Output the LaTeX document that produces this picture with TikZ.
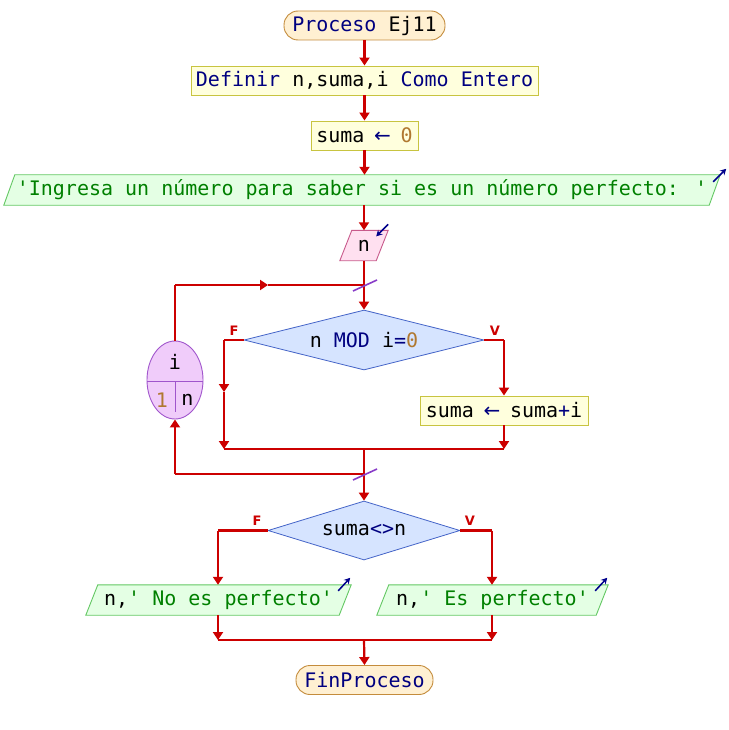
\documentclass[tikz,border=0pt]{standalone}
\usepackage{fontspec}
\setmainfont{DejaVu Sans Mono}[Ligatures=TeXOff]
\newfontfamily\labfont{DejaVu Sans}[Ligatures=TeXOff]
\usetikzlibrary{shapes.geometric,arrows.meta,calc,backgrounds}
\definecolor{kwc}{RGB}{0,0,128}
\definecolor{numc}{RGB}{176,120,48}
\definecolor{strc}{RGB}{0,128,0}
\definecolor{linec}{RGB}{204,0,0}
\definecolor{termf}{RGB}{255,240,210}
\definecolor{termd}{RGB}{196,140,60}
\definecolor{procf}{RGB}{255,255,221}
\definecolor{procd}{RGB}{200,196,64}
\definecolor{outf}{RGB}{228,255,228}
\definecolor{outd}{RGB}{100,200,100}
\definecolor{inf}{RGB}{255,224,240}
\definecolor{ind}{RGB}{200,90,140}
\definecolor{decf}{RGB}{214,228,255}
\definecolor{decd}{RGB}{68,100,200}
\definecolor{loopf}{RGB}{240,204,250}
\definecolor{loopd}{RGB}{160,85,204}
\definecolor{slashc}{RGB}{136,60,200}
\definecolor{iconc}{RGB}{0,0,140}
\newcommand\pkw[1]{\textcolor{kwc}{#1}}
\newcommand\pop[1]{\textcolor{kwc}{#1}}
\newcommand\pnum[1]{\textcolor{numc}{#1}}
\newcommand\pstr[1]{\textcolor{strc}{#1}}
\newcommand\parr{\textcolor{kwc}{\makebox[12pt]{\labfont ←}}}
\newcommand\paraoutline[4]{%
  \begin{scope}[on background layer]
  \draw[draw=#4, fill=#3, line width=0.9pt]
    ($(#1.south west)+(-#2/2,0)$) -- ($(#1.north west)+(#2/2,0)$) --
    ($(#1.north east)+(#2/2,0)$) -- ($(#1.south east)+(-#2/2,0)$) -- cycle;
  \end{scope}}
\begin{document}
\begin{tikzpicture}[x=1pt,y=-1pt,
  font=\fontsize{20}{24}\selectfont,
  conn/.style={draw=linec, line width=2.2pt},
  arr/.style={conn, -{Triangle[width=10pt,length=8pt]}},
  term/.style={draw=termd, fill=termf, line width=0.9pt, rounded corners=14pt, minimum height=29pt, inner sep=0pt},
  proc/.style={draw=procd, fill=procf, line width=0.9pt, minimum height=29pt, inner sep=0pt},
  para/.style={minimum height=30pt, inner sep=0pt},
  dec/.style={diamond, draw=decd, fill=decf, line width=0.8pt, inner sep=0pt, aspect=4},
  lbl/.style={text=linec, font=\labfont\fontsize{13}{15}\selectfont\bfseries},
  slash/.style={draw=slashc, line width=1.6pt},
  icon/.style={draw=iconc, line width=1.5pt, -{Stealth[length=6pt,width=6.5pt]}},
]
\begin{scope}[on background layer]
\fill[white] (0,0) rectangle (728,730);
\end{scope}
\useasboundingbox (0,0) rectangle (728,730);

\node[term, minimum width=161pt] (start) at (364.5,25.5) {\pkw{Proceso} Ej11};
\node[proc, minimum width=347pt] (defs) at (364.5,80.5) {\pkw{Definir} n,suma,i \pkw{Como Entero}};
\node[proc, minimum width=107pt] (s0) at (364.5,135.5) {suma \parr{} \pnum{0}};
\node[para, minimum width=705pt] (out1) at (362,190) {\pstr{'Ingresa un número para saber si es un número perfecto: '}};
\paraoutline{out1}{11}{outf}{outd}
\node[para, minimum width=36pt] (inp) at (364,245.5) {n};
\paraoutline{inp}{12}{inf}{ind}
\coordinate (j1) at (364,285);
\node[dec, minimum width=240pt, minimum height=60pt] (d1) at (364,340) {n \pkw{MOD} i\pop{=}\pnum{0}};
\node[lbl] (f1) at (234,331) {F};
\node[lbl] (v1) at (495,331) {V};
\coordinate (f1c) at (224,340);
\coordinate (f1m) at (224,392);
\coordinate (f1b) at (224,449);
\coordinate (v1c) at (504,340);
\node[proc, minimum width=168pt] (s1) at (504,410.5) {suma \parr{} suma\pop{+}i};
\coordinate (v1b) at (504,449);
\coordinate (jm) at (364,449);
\coordinate (j2) at (364,474);
\coordinate (lb) at (175,474);
\coordinate (lt) at (175,285);
\coordinate (lm) at (268,285);
\node[ellipse, draw=loopd, fill=loopf, line width=0.9pt, minimum width=56pt, minimum height=78pt, inner sep=0pt] (loop) at (175,380) {};
\draw[draw=loopd, line width=0.9pt] ($(loop.center)+(-28,1)$) -- ($(loop.center)+(28,1)$);
\draw[draw=loopd, line width=0.9pt] ($(loop.center)+(0,1)$) -- ($(loop.center)+(0,32)$);
\node (lvar) at (175,362) {i};
\node (lfrom) at (162,400) {\pnum{1}};
\node (lto) at (187.5,400) {n};

\node[dec, minimum width=192pt, minimum height=59pt] (d2) at (364,530.5) {suma\pop{<>}n};
\node[lbl] (f2) at (257,521) {F};
\node[lbl] (v2) at (470,521) {V};
\coordinate (f2c) at (218,530.5);
\coordinate (v2c) at (492,530.5);
\node[para, minimum width=253pt] (no) at (218.5,600) {n,\pstr{' No es perfecto'}};
\paraoutline{no}{12}{outf}{outd}
\node[para, minimum width=219pt] (yes) at (492.5,600) {n,\pstr{' Es perfecto'}};
\paraoutline{yes}{12}{outf}{outd}
\coordinate (nob) at (218,640);
\coordinate (yesb) at (492,640);
\coordinate (jend) at (364,640);
\node[term, minimum width=137pt] (end) at (364.5,680) {\pkw{FinProceso}};

% connectors
\draw[arr] (start) -- (defs);
\draw[arr] (defs) -- (s0);
\draw[arr] (s0.south) -- (s0.south |- out1.north);
\draw[arr] (out1.south -| inp.north) -- (inp.north);
\draw[conn] (inp.south) -- (j1);
\draw[arr] (j1) -- (d1.north);
\draw[conn] (d1.west) -- (f1c);
\draw[arr] (f1c) -- (f1m);
\draw[arr] (f1m) -- (f1b);
\draw[conn] (d1.east) -- (v1c);
\draw[arr] (v1c) -- (s1.north);
\draw[arr] (s1.south) -- (v1b);
\draw[conn] (f1b) -- (v1b);
\draw[conn] (jm) -- (j2) -- (lb);
\draw[arr] (lb) -- (loop.south);
\draw[conn] (loop.north) -- (lt);
\draw[arr] (lt) -- (lm);
\draw[conn] (lm) -- (j1);
\draw[arr] (j2) -- (d2.north);
\draw[slash] ($(j1)+(-11,6)$) -- ($(j1)+(13,-5)$);
\draw[slash] ($(j2)+(-11,6)$) -- ($(j2)+(13,-5)$);
\draw[conn] (d2.west) -- (f2c);
\draw[arr] (f2c) -- (f2c |- no.north);
\draw[conn] (d2.east) -- (v2c);
\draw[arr] (v2c) -- (v2c |- yes.north);
\draw[arr] (no.south -| nob) -- (nob);
\draw[arr] (yes.south -| yesb) -- (yesb);
\draw[conn] (nob) -- (yesb);
\draw[arr] (jend) -- (end.north);

% icons
\draw[icon] ($(out1.north east)+(-1.5,7)$) -- ($(out1.north east)+(11.5,-6)$);
\draw[icon] ($(inp.north east)+(6,-6)$) -- ($(inp.north east)+(-6,6)$);
\draw[icon] ($(no.north east)+(-7,6)$) -- ($(no.north east)+(5,-7)$);
\draw[icon] ($(yes.north east)+(-7,6)$) -- ($(yes.north east)+(5,-7)$);
\end{tikzpicture}
\end{document}
